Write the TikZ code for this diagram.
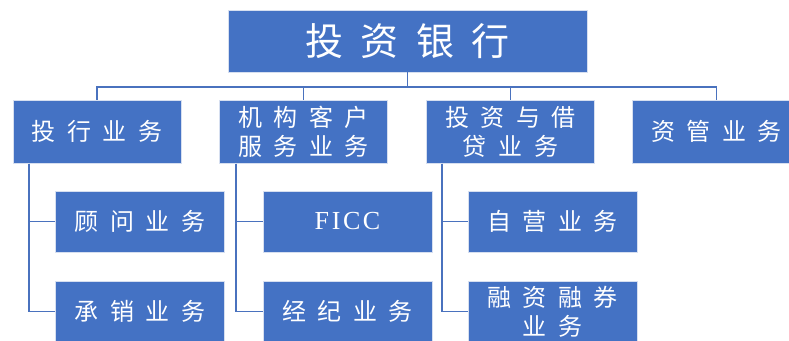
\documentclass[tikz,border=0pt]{standalone}
\usepackage{fontspec}
\setmainfont{Noto Sans CJK SC}
\newfontfamily\latinf{Liberation Serif}
\definecolor{boxblue}{HTML}{4472C4}
\definecolor{edgeblue}{HTML}{D6DFF0}
\definecolor{lineblue}{HTML}{4A72BE}
\newcommand{\gp}{\hspace{0.48em}}
\newcommand{\tgp}{\hspace{0.45em}}
\begin{document}
\begin{tikzpicture}[x=1pt,y=-1pt,
  box/.style={fill=boxblue,draw=edgeblue,line width=0.8pt,text=white,inner sep=0pt,align=center},
  lvtwo/.style={box,minimum width=168pt,minimum height=63pt,font=\fontsize{24}{30}\selectfont},
  lvthree/.style={box,minimum width=169pt,minimum height=61pt,font=\fontsize{24}{30}\selectfont},
  conn/.style={draw=lineblue,line width=1.3pt}]
\useasboundingbox (0,0) rectangle (789,340);
\clip (0,0) rectangle (789,340);
\node[box,minimum width=359pt,minimum height=62pt,font=\fontsize{38}{40}\selectfont] (top) at (407.5,41) {投\tgp 资\tgp 银\tgp 行};
\node[lvtwo] (a) at (97,131.5) {投\gp 行\gp 业\gp 务};
\node[lvtwo] (b) at (303.5,131.5) {机\gp 构\gp 客\gp 户\\[-1pt]服\gp 务\gp 业\gp 务};
\node[lvtwo] (c) at (510.5,131.5) {投\gp 资\gp 与\gp 借\\[-1pt]贷\gp 业\gp 务};
\node[lvtwo] (d) at (716.5,131.5) {资\gp 管\gp 业\gp 务};
\node[lvthree] (a1) at (140,221.5) {顾\gp 问\gp 业\gp 务};
\node[lvthree] (a2) at (140,311.5) {承\gp 销\gp 业\gp 务};
\node[lvthree] (b1) at (347.5,221.5) {\latinf\fontsize{26}{28}\selectfont F\hspace{0.1em}I\hspace{0.1em}C\hspace{0.1em}C};
\node[lvthree] (b2) at (347.5,311.5) {经\gp 纪\gp 业\gp 务};
\node[lvthree] (c1) at (552.5,221.5) {自\gp 营\gp 业\gp 务};
\node[lvthree] (c2) at (552.5,311.5) {融\gp 资\gp 融\gp 券\\[-1pt]业\gp 务};
\coordinate (hub) at (407.5,87);
\draw[conn] (top.south) -- (hub);
\draw[conn] (hub) -| (a.north);
\draw[conn] (hub) -| (b.north);
\draw[conn] (hub) -| (c.north);
\draw[conn] (hub) -| (d.north);
\coordinate (sa) at (29,163.5);
\coordinate (sb) at (236,163.5);
\coordinate (sc) at (442,163.5);
\draw[conn] (sa) |- (a1.west);
\draw[conn] (sa) |- (a2.west);
\draw[conn] (sb) |- (b1.west);
\draw[conn] (sb) |- (b2.west);
\draw[conn] (sc) |- (c1.west);
\draw[conn] (sc) |- (c2.west);
\end{tikzpicture}
\end{document}
